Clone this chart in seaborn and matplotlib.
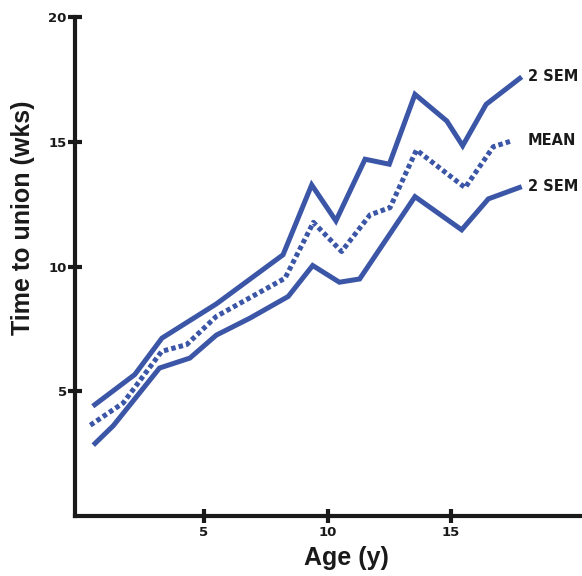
import matplotlib
matplotlib.use("Agg")
import matplotlib.pyplot as plt
import numpy as np
import pandas as pd
import seaborn as sns

# Upper 2 SEM bound
upper_age = [0.5, 2.2, 3.3, 5.5, 8.2, 9.36, 10.34, 11.52, 12.5, 13.54, 14.83, 15.47, 16.42, 17.86]
upper_wks = [4.4, 5.67, 7.13, 8.5, 10.47, 13.27, 11.83, 14.3, 14.1, 16.9, 15.83, 14.84, 16.5, 17.6]

# Mean time to union
mean_age = [0.4, 1.73, 3.29, 4.3, 5.5, 8.28, 9.43, 10.57, 11.72, 12.53, 13.6, 15.57, 16.71, 17.5]
mean_wks = [3.64, 4.53, 6.6, 6.87, 8.0, 9.53, 11.77, 10.6, 12.07, 12.36, 14.67, 13.16, 14.8, 15.05]

# Lower 2 SEM bound
lower_age = [0.52, 1.33, 3.2, 4.43, 5.5, 6.86, 8.41, 9.4, 10.48, 11.3, 13.54, 15.43, 16.51, 17.86]
lower_wks = [2.84, 3.62, 5.93, 6.33, 7.25, 7.93, 8.8, 10.04, 9.37, 9.5, 12.8, 11.47, 12.71, 13.2]

series_labels = ["2 SEM", "MEAN", "2 SEM"]
x_ticks = [5, 10, 15]
y_ticks = [5, 10, 15, 20]

sns.set_theme(style="ticks")
plt.rcParams["font.family"] = ["DejaVu Sans"]

BLUE = "#3b56a7"
INK = "#1a1a1a"

fig = plt.figure(figsize=(5.82, 5.76), dpi=100)
W, H = 582, 576
ax = fig.add_axes([75 / W, (H - 516) / H, (W - 75) / W, (516 - 17) / H])

frames = [
    pd.DataFrame({"age": upper_age, "wks": upper_wks}),
    pd.DataFrame({"age": mean_age, "wks": mean_wks}),
    pd.DataFrame({"age": lower_age, "wks": lower_wks}),
]
styles = ["-", (0, (0.9, 0.62)), "-"]

for df, ls in zip(frames, styles):
    sns.lineplot(data=df, x="age", y="wks", ax=ax, color=BLUE, lw=3.6,
                 linestyle=ls, sort=False, estimator=None,
                 solid_capstyle="butt", dash_capstyle="butt",
                 solid_joinstyle="miter", clip_on=False)

# Series labels at the right-hand end of each curve
for df, lab in zip(frames, series_labels):
    ax.text(18.1, df["wks"].iloc[-1] + 0.02, lab, fontsize=10.5,
            fontweight="bold", color=INK, ha="left", va="center")

ax.set_xlim(-0.22, 20.3)
ax.set_ylim(0, 20)
ax.set_xticks(x_ticks)
ax.set_yticks(y_ticks)
ax.set_xticklabels([str(t) for t in x_ticks], fontsize=9.5, fontweight="bold", color=INK)
ax.set_yticklabels([str(t) for t in y_ticks], fontsize=9.5, fontweight="bold", color=INK)

for side in ("top", "right"):
    ax.spines[side].set_visible(False)
for side in ("left", "bottom"):
    ax.spines[side].set_linewidth(3)
    ax.spines[side].set_color(INK)
    ax.spines[side].set_capstyle("projecting")

ax.tick_params(axis="both", which="major", direction="inout", length=10, width=3,
               color=INK, bottom=True, left=True, top=False, right=False)
ax.tick_params(axis="y", pad=1)
ax.tick_params(axis="x", pad=2)

ax.set_xlabel("Age (y)", fontsize=18, fontweight="bold", color=INK,
              family=["Liberation Sans"])
ax.set_ylabel("Time to union (wks)", fontsize=18, fontweight="bold", color=INK,
              family=["Liberation Sans"])
ax.xaxis.set_label_coords((346 - 75) / 507, (516 - 546) / 499)
ax.yaxis.set_label_coords((35 - 75) / 507, (516 - 218) / 499)

ax.grid(False)
fig.savefig("out.png", dpi=100)
